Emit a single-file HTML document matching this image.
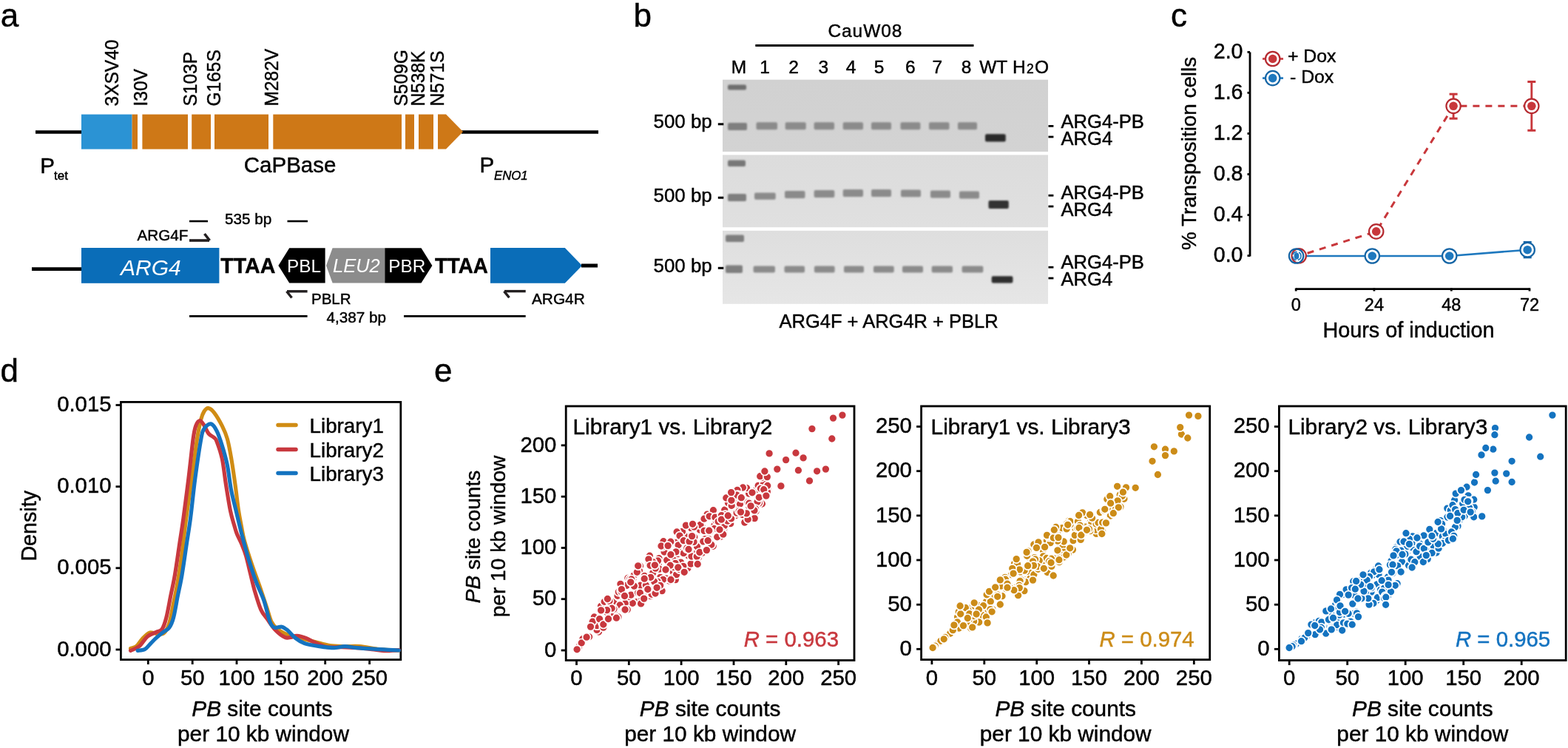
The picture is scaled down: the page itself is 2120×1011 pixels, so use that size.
<!DOCTYPE html>
<html><head><meta charset="utf-8"><title>Figure</title>
<style>html,body{margin:0;padding:0;background:#fff;} svg{display:block;} text{font-family:'Liberation Sans', Arial, sans-serif;stroke:#000;stroke-width:0.45px;}</style>
</head><body>
<svg width="2120" height="1011" viewBox="0 0 2120 1011">
<rect width="2120" height="1011" fill="#fff"/>
<text x="0.8" y="35.5" font-size="44">a</text>
<text x="856.5" y="35.5" font-size="44">b</text>
<text x="1583.0" y="35.5" font-size="44">c</text>
<text x="0.5" y="515.5" font-size="44">d</text>
<text x="587.0" y="515.5" font-size="44">e</text>
<line x1="48.0" y1="178.5" x2="111.0" y2="178.5" stroke="#000" stroke-width="4.6" />
<line x1="624.0" y1="178.5" x2="809.0" y2="178.5" stroke="#000" stroke-width="4.6" />
<rect x="110.0" y="154.6" width="68.6" height="47.0" fill="#2B93D4" />
<rect x="178.6" y="154.6" width="7.4" height="47.0" fill="#CE7817" />
<rect x="192.4" y="154.6" width="61.6" height="47.0" fill="#CE7817" />
<rect x="259.2" y="154.6" width="25.8" height="47.0" fill="#CE7817" />
<rect x="290.0" y="154.6" width="73.0" height="47.0" fill="#CE7817" />
<rect x="369.3" y="154.6" width="173.7" height="47.0" fill="#CE7817" />
<rect x="548.0" y="154.6" width="12.0" height="47.0" fill="#CE7817" />
<rect x="566.0" y="154.6" width="20.0" height="47.0" fill="#CE7817" />
<polygon points="592.0,154.6 603.0,154.6 626.0,178.0 603.0,201.6 592.0,201.6" fill="#CE7817" />
<text x="0" y="0" font-size="26.5" transform="translate(159.5,143.5) rotate(-90) scale(0.925,1)">3XSV40</text>
<text x="0" y="0" font-size="26.5" transform="translate(199,143.5) rotate(-90) scale(0.925,1)">I30V</text>
<text x="0" y="0" font-size="26.5" transform="translate(266,143.5) rotate(-90) scale(0.925,1)">S103P</text>
<text x="0" y="0" font-size="26.5" transform="translate(298,143.5) rotate(-90) scale(0.925,1)">G165S</text>
<text x="0" y="0" font-size="26.5" transform="translate(376,143.5) rotate(-90) scale(0.925,1)">M282V</text>
<text x="0" y="0" font-size="26.5" transform="translate(551,143.5) rotate(-90) scale(0.925,1)">S509G</text>
<text x="0" y="0" font-size="26.5" transform="translate(574,143.5) rotate(-90) scale(0.925,1)">N538K</text>
<text x="0" y="0" font-size="26.5" transform="translate(600,143.5) rotate(-90) scale(0.925,1)">N571S</text>
<text x="54.3" y="233.5" font-size="29.5">P</text>
<text x="73.0" y="242.8" font-size="17">tet</text>
<text x="329.8" y="233.3" font-size="29.5">CaPBase</text>
<text x="648.4" y="233.1" font-size="29.5">P</text>
<text x="668.0" y="242.9" font-size="16.8" font-style="italic">ENO1</text>
<line x1="43.0" y1="363.6" x2="110.0" y2="363.6" stroke="#000" stroke-width="4.8" />
<rect x="110.0" y="335.0" width="186.4" height="47.8" fill="#0A6DB8" />
<text x="163.0" y="372.0" font-size="30" font-style="italic" fill="#fff" style="stroke:none">ARG4</text>
<text x="298.3" y="369.4" font-size="29.3" font-weight="bold" textLength="74" lengthAdjust="spacingAndGlyphs">TTAA</text>
<polygon points="376.4,359.0 391.2,335.2 439.6,335.2 439.6,382.6 391.2,382.6" fill="#000" />
<polygon points="441.0,359.0 449.6,335.2 520.3,335.2 520.3,382.6 449.6,382.6" fill="#8C8C8C" />
<polygon points="520.3,335.2 569.5,335.2 584.4,359.0 569.5,382.6 520.3,382.6" fill="#000" />
<text x="388.0" y="368.0" font-size="24.3" fill="#fff" style="stroke:none">PBL</text>
<text x="450.0" y="368.0" font-size="25.5" font-style="italic" fill="#fff" style="stroke:none">LEU2</text>
<text x="525.3" y="368.0" font-size="24.3" fill="#fff" style="stroke:none">PBR</text>
<text x="587.9" y="369.4" font-size="29.3" font-weight="bold" textLength="72" lengthAdjust="spacingAndGlyphs">TTAA</text>
<polygon points="663.0,335.0 763.8,335.0 787.0,359.0 763.8,382.8 663.0,382.8" fill="#0A6DB8" />
<line x1="786.0" y1="359.0" x2="808.0" y2="359.0" stroke="#000" stroke-width="5" />
<text x="185.5" y="324.8" font-size="20.7">ARG4F</text>
<line x1="256.0" y1="325.0" x2="283.0" y2="325.0" stroke="#231F20" stroke-width="3.6" />
<path d="M283.5,325 L276.5,316" stroke="#231F20" stroke-width="3.6" fill="none"/>
<text x="304.0" y="303.0" font-size="20.7">535 bp</text>
<line x1="256.0" y1="299.0" x2="281.0" y2="299.0" stroke="#000" stroke-width="2.6" />
<line x1="388.5" y1="299.0" x2="416.0" y2="299.0" stroke="#000" stroke-width="2.6" />
<line x1="388.0" y1="393.8" x2="415.6" y2="393.8" stroke="#231F20" stroke-width="3.4" />
<path d="M387.5,393.8 L394.5,402.5" stroke="#231F20" stroke-width="3.4" fill="none"/>
<text x="421.0" y="410.5" font-size="20.5">PBLR</text>
<line x1="682.0" y1="393.6" x2="710.7" y2="393.6" stroke="#231F20" stroke-width="3.4" />
<path d="M681.5,393.6 L688.5,402.3" stroke="#231F20" stroke-width="3.4" fill="none"/>
<text x="719.0" y="410.5" font-size="20.8">ARG4R</text>
<line x1="256.0" y1="427.4" x2="415.6" y2="427.4" stroke="#000" stroke-width="2.8" />
<line x1="546.0" y1="427.4" x2="710.7" y2="427.4" stroke="#000" stroke-width="2.8" />
<text x="441.5" y="435.6" font-size="20.7">4,387 bp</text>
<defs><filter id="bl" x="-30%" y="-60%" width="160%" height="220%"><feGaussianBlur stdDeviation="1.3"/></filter><filter id="bl2" x="-30%" y="-60%" width="160%" height="220%"><feGaussianBlur stdDeviation="0.9"/></filter></defs>
<text x="1119.5" y="49.6" font-size="24.5" letter-spacing="0.9">CauW08</text>
<line x1="1021.3" y1="61.6" x2="1316.5" y2="61.6" stroke="#000" stroke-width="3" />
<text x="999.0" y="99.4" font-size="24.5" text-anchor="middle">M</text>
<text x="1034.0" y="99.4" font-size="24.5" text-anchor="middle">1</text>
<text x="1073.0" y="99.4" font-size="24.5" text-anchor="middle">2</text>
<text x="1113.2" y="99.4" font-size="24.5" text-anchor="middle">3</text>
<text x="1150.5" y="99.4" font-size="24.5" text-anchor="middle">4</text>
<text x="1188.6" y="99.4" font-size="24.5" text-anchor="middle">5</text>
<text x="1230.8" y="99.4" font-size="24.5" text-anchor="middle">6</text>
<text x="1267.2" y="99.4" font-size="24.5" text-anchor="middle">7</text>
<text x="1306.5" y="99.4" font-size="24.5" text-anchor="middle">8</text>
<text x="1343.2" y="99.4" font-size="24.5" text-anchor="middle">WT</text>
<text x="1369" y="99.4" font-size="24.5" letter-spacing="1.3">H<tspan font-size="17.5">2</tspan>O</text>
<defs><linearGradient id="g1" x1="0" y1="0" x2="0" y2="1"><stop offset="0" stop-color="#D1D1D1"/><stop offset="1" stop-color="#D3D3D3"/></linearGradient><linearGradient id="g2" x1="0" y1="0" x2="0" y2="1"><stop offset="0" stop-color="#DCDCDC"/><stop offset="1" stop-color="#E0E0E0"/></linearGradient><linearGradient id="g3" x1="0" y1="0" x2="0" y2="1"><stop offset="0" stop-color="#DEDEDE"/><stop offset="1" stop-color="#E6E6E6"/></linearGradient></defs>
<rect x="977.0" y="107.7" width="440.0" height="97.3" fill="url(#g1)" />
<rect x="977.0" y="209.4" width="440.0" height="97.8" fill="url(#g2)" />
<rect x="977.0" y="311.8" width="440.0" height="99.0" fill="url(#g3)" />
<rect x="984.0" y="114.5" width="25.0" height="7.0" rx="2" fill="#6E6E6E" filter="url(#bl)"/>
<rect x="984.0" y="166.0" width="26.0" height="10.0" rx="2" fill="#7F7F7F" filter="url(#bl)"/>
<rect x="1022.5" y="165.3" width="28.5" height="9.9" rx="2" fill="#8B8B8B" filter="url(#bl)"/>
<rect x="1061.7" y="165.3" width="28.0" height="9.9" rx="2" fill="#8B8B8B" filter="url(#bl)"/>
<rect x="1100.6" y="165.3" width="27.4" height="9.9" rx="2" fill="#8B8B8B" filter="url(#bl)"/>
<rect x="1139.7" y="165.3" width="27.3" height="9.9" rx="2" fill="#8B8B8B" filter="url(#bl)"/>
<rect x="1178.0" y="165.3" width="27.0" height="9.9" rx="2" fill="#8B8B8B" filter="url(#bl)"/>
<rect x="1217.5" y="165.3" width="26.9" height="9.9" rx="2" fill="#8B8B8B" filter="url(#bl)"/>
<rect x="1256.0" y="165.3" width="27.5" height="9.9" rx="2" fill="#8B8B8B" filter="url(#bl)"/>
<rect x="1295.0" y="165.3" width="26.0" height="9.9" rx="2" fill="#8B8B8B" filter="url(#bl)"/>
<rect x="1332.0" y="181.3" width="27.7" height="10.2" rx="2" fill="#2A2A2A" filter="url(#bl2)"/>
<rect x="984.0" y="216.5" width="24.0" height="8.5" rx="2" fill="#777777" filter="url(#bl)"/>
<rect x="984.0" y="262.0" width="25.0" height="10.0" rx="2" fill="#7F7F7F" filter="url(#bl)"/>
<rect x="1020.0" y="260.6" width="28.7" height="9.1" rx="2" fill="#8B8B8B" filter="url(#bl)"/>
<rect x="1061.0" y="258.0" width="27.5" height="10.0" rx="2" fill="#8B8B8B" filter="url(#bl)"/>
<rect x="1100.6" y="257.0" width="27.7" height="10.0" rx="2" fill="#8B8B8B" filter="url(#bl)"/>
<rect x="1139.7" y="256.0" width="27.3" height="10.0" rx="2" fill="#8B8B8B" filter="url(#bl)"/>
<rect x="1178.0" y="256.0" width="27.0" height="10.0" rx="2" fill="#8B8B8B" filter="url(#bl)"/>
<rect x="1218.0" y="256.6" width="27.0" height="9.7" rx="2" fill="#8B8B8B" filter="url(#bl)"/>
<rect x="1258.0" y="257.5" width="27.0" height="10.1" rx="2" fill="#8B8B8B" filter="url(#bl)"/>
<rect x="1297.0" y="258.6" width="27.0" height="9.9" rx="2" fill="#8B8B8B" filter="url(#bl)"/>
<rect x="1336.5" y="271.0" width="27.3" height="11.0" rx="2" fill="#333333" filter="url(#bl2)"/>
<rect x="981.0" y="317.5" width="25.0" height="9.5" rx="2" fill="#7E7E7E" filter="url(#bl)"/>
<rect x="981.0" y="358.6" width="23.0" height="10.3" rx="2" fill="#7F7F7F" filter="url(#bl)"/>
<rect x="1018.6" y="359.4" width="29.3" height="9.0" rx="2" fill="#8B8B8B" filter="url(#bl)"/>
<rect x="1060.5" y="359.4" width="27.5" height="9.0" rx="2" fill="#8B8B8B" filter="url(#bl)"/>
<rect x="1100.9" y="359.4" width="27.7" height="9.0" rx="2" fill="#8B8B8B" filter="url(#bl)"/>
<rect x="1141.0" y="359.4" width="27.0" height="9.0" rx="2" fill="#8B8B8B" filter="url(#bl)"/>
<rect x="1181.0" y="359.4" width="27.7" height="9.0" rx="2" fill="#8B8B8B" filter="url(#bl)"/>
<rect x="1220.0" y="359.4" width="28.0" height="9.0" rx="2" fill="#8B8B8B" filter="url(#bl)"/>
<rect x="1259.7" y="359.4" width="28.3" height="9.0" rx="2" fill="#8B8B8B" filter="url(#bl)"/>
<rect x="1300.6" y="359.4" width="28.7" height="9.0" rx="2" fill="#8B8B8B" filter="url(#bl)"/>
<rect x="1340.7" y="373.2" width="28.7" height="9.3" rx="2" fill="#2F2F2F" filter="url(#bl2)"/>
<text x="883.5" y="173.1" font-size="25.9">500 bp</text>
<line x1="970.8" y1="167.8" x2="978.3" y2="167.8" stroke="#000" stroke-width="3" />
<text x="883.5" y="272.5" font-size="25.9">500 bp</text>
<line x1="970.8" y1="267.2" x2="978.3" y2="267.2" stroke="#000" stroke-width="3" />
<text x="883.5" y="367.5" font-size="25.9">500 bp</text>
<line x1="970.8" y1="362.3" x2="978.3" y2="362.3" stroke="#000" stroke-width="3" />
<text x="1434.5" y="173.4" font-size="25.6">ARG4-PB</text>
<text x="1434.5" y="196.0" font-size="25.6">ARG4</text>
<line x1="1417.5" y1="170.4" x2="1424.4" y2="170.4" stroke="#000" stroke-width="2.8" />
<line x1="1417.5" y1="185.0" x2="1424.4" y2="185.0" stroke="#000" stroke-width="2.8" />
<text x="1434.5" y="268.6" font-size="25.6">ARG4-PB</text>
<text x="1434.5" y="291.8" font-size="25.6">ARG4</text>
<line x1="1417.5" y1="264.2" x2="1424.4" y2="264.2" stroke="#000" stroke-width="2.8" />
<line x1="1417.5" y1="279.0" x2="1424.4" y2="279.0" stroke="#000" stroke-width="2.8" />
<text x="1434.5" y="362.5" font-size="25.6">ARG4-PB</text>
<text x="1434.5" y="385.7" font-size="25.6">ARG4</text>
<line x1="1417.5" y1="361.2" x2="1424.4" y2="361.2" stroke="#000" stroke-width="2.8" />
<line x1="1417.5" y1="376.0" x2="1424.4" y2="376.0" stroke="#000" stroke-width="2.8" />
<text x="1053.5" y="443.3" font-size="25.5">ARG4F + ARG4R + PBLR</text>
<line x1="1690.0" y1="70.4" x2="1690.0" y2="346.4" stroke="#000" stroke-width="2.8" />
<line x1="1686.5" y1="345.6" x2="1690.0" y2="345.6" stroke="#000" stroke-width="2.8" />
<text x="1680.5" y="354.3" font-size="28.6" text-anchor="end">0.0</text>
<line x1="1686.5" y1="290.6" x2="1690.0" y2="290.6" stroke="#000" stroke-width="2.8" />
<text x="1680.5" y="299.3" font-size="28.6" text-anchor="end">0.4</text>
<line x1="1686.5" y1="235.5" x2="1690.0" y2="235.5" stroke="#000" stroke-width="2.8" />
<text x="1680.5" y="244.2" font-size="28.6" text-anchor="end">0.8</text>
<line x1="1686.5" y1="180.5" x2="1690.0" y2="180.5" stroke="#000" stroke-width="2.8" />
<text x="1680.5" y="189.2" font-size="28.6" text-anchor="end">1.2</text>
<line x1="1686.5" y1="125.4" x2="1690.0" y2="125.4" stroke="#000" stroke-width="2.8" />
<text x="1680.5" y="134.1" font-size="28.6" text-anchor="end">1.6</text>
<line x1="1686.5" y1="70.4" x2="1690.0" y2="70.4" stroke="#000" stroke-width="2.8" />
<text x="1680.5" y="79.1" font-size="28.6" text-anchor="end">2.0</text>
<line x1="1752.0" y1="390.6" x2="2068.6" y2="390.6" stroke="#000" stroke-width="2.8" />
<line x1="1752.2" y1="389.5" x2="1752.2" y2="393.5" stroke="#000" stroke-width="2.8" />
<text x="1752.2" y="420.2" font-size="23.5" text-anchor="middle">0</text>
<line x1="1857.9" y1="389.5" x2="1857.9" y2="393.5" stroke="#000" stroke-width="2.8" />
<text x="1857.9" y="420.2" font-size="23.5" text-anchor="middle">24</text>
<line x1="1962.3" y1="389.5" x2="1962.3" y2="393.5" stroke="#000" stroke-width="2.8" />
<text x="1962.3" y="420.2" font-size="23.5" text-anchor="middle">48</text>
<line x1="2068.0" y1="389.5" x2="2068.0" y2="393.5" stroke="#000" stroke-width="2.8" />
<text x="2068.0" y="420.2" font-size="23.5" text-anchor="middle">72</text>
<text x="1904.5" y="455.9" font-size="28.8" text-anchor="middle">Hours of induction</text>
<text x="1616.6" y="338.0" font-size="27.8" transform="rotate(-90 1616.6 338.0)">% Transposition cells</text>
<polyline points="1752.6,346.0 1855.3,346.0 1959.7,346.0 2065.2,337.7" fill="none" stroke="#1E78BE" stroke-width="2.6"/>
<polyline points="1756.2,345.8 1860.7,312.9 1965.1,143.3 2070.8,143.3" fill="none" stroke="#C8373B" stroke-width="3" stroke-dasharray="9,8" stroke-dashoffset="-12"/>
<line x1="1965.1" y1="127.2" x2="1965.1" y2="160.2" stroke="#C8373B" stroke-width="2.8" />
<line x1="1959.6" y1="127.2" x2="1970.6" y2="127.2" stroke="#C8373B" stroke-width="3" />
<line x1="1959.6" y1="160.2" x2="1970.6" y2="160.2" stroke="#C8373B" stroke-width="3" />
<line x1="2070.8" y1="110.5" x2="2070.8" y2="176.3" stroke="#C8373B" stroke-width="2.8" />
<line x1="2065.3" y1="110.5" x2="2076.3" y2="110.5" stroke="#C8373B" stroke-width="3" />
<line x1="2065.3" y1="176.3" x2="2076.3" y2="176.3" stroke="#C8373B" stroke-width="3" />
<line x1="2059.7" y1="327.3" x2="2070.7" y2="327.3" stroke="#1565A5" stroke-width="2.8" />
<line x1="2059.7" y1="347.9" x2="2070.7" y2="347.9" stroke="#1565A5" stroke-width="2.8" />
<circle cx="1860.7" cy="312.9" r="9.7" fill="#fff" stroke="#B52A30" stroke-width="2.2"/>
<circle cx="1860.7" cy="312.9" r="5.8" fill="#C8373B"/>
<circle cx="1965.1" cy="143.3" r="9.7" fill="#fff" stroke="#B52A30" stroke-width="2.2"/>
<circle cx="1965.1" cy="143.3" r="5.8" fill="#C8373B"/>
<circle cx="2070.8" cy="143.3" r="9.7" fill="#fff" stroke="#B52A30" stroke-width="2.2"/>
<circle cx="2070.8" cy="143.3" r="5.8" fill="#C8373B"/>
<circle cx="1756.2" cy="345.8" r="9.7" fill="#fff" stroke="#B52A30" stroke-width="2.2"/>
<circle cx="1752.6" cy="346" r="9.7" fill="none" stroke="#1565A5" stroke-width="2.2"/>
<circle cx="1753.4" cy="346" r="5.6" fill="none" stroke="#1E78BE" stroke-width="1.6" stroke-dasharray="7,2.5"/>
<ellipse cx="1753" cy="346" rx="3.4" ry="4.6" fill="#1E78BE"/>
<circle cx="1855.3" cy="346.0" r="9.7" fill="#fff" stroke="#1565A5" stroke-width="2.2"/>
<circle cx="1855.3" cy="346.0" r="5.8" fill="#1E78BE"/>
<circle cx="1959.7" cy="346.0" r="9.7" fill="#fff" stroke="#1565A5" stroke-width="2.2"/>
<circle cx="1959.7" cy="346.0" r="5.8" fill="#1E78BE"/>
<circle cx="2065.2" cy="337.7" r="9.7" fill="#fff" stroke="#1565A5" stroke-width="2.2"/>
<circle cx="2065.2" cy="337.7" r="5.8" fill="#1E78BE"/>
<line x1="1707.0" y1="79.5" x2="1735.0" y2="79.5" stroke="#C8373B" stroke-width="2.6" />
<circle cx="1720.7" cy="79.5" r="9.7" fill="#fff" stroke="#B52A30" stroke-width="2.2"/>
<circle cx="1720.7" cy="79.5" r="5.8" fill="#C8373B"/>
<line x1="1707.0" y1="105.6" x2="1735.0" y2="105.6" stroke="#1E78BE" stroke-width="2.6" />
<circle cx="1720.7" cy="105.6" r="9.7" fill="#fff" stroke="#1565A5" stroke-width="2.2"/>
<circle cx="1720.7" cy="105.6" r="5.8" fill="#1E78BE"/>
<text x="1741.0" y="83.8" font-size="24.8">+ Dox</text>
<text x="1744.0" y="112.3" font-size="24.8">- Dox</text>
<rect x="163.4" y="543.4" width="378.4" height="348.2" fill="none" stroke="#000" stroke-width="2.8"/>
<line x1="156.5" y1="878.0" x2="163.4" y2="878.0" stroke="#000" stroke-width="2.8" />
<text x="150.5" y="886.6" font-size="29.3" text-anchor="end">0.000</text>
<line x1="156.5" y1="767.8" x2="163.4" y2="767.8" stroke="#000" stroke-width="2.8" />
<text x="150.5" y="776.4" font-size="29.3" text-anchor="end">0.005</text>
<line x1="156.5" y1="657.7" x2="163.4" y2="657.7" stroke="#000" stroke-width="2.8" />
<text x="150.5" y="666.3" font-size="29.3" text-anchor="end">0.010</text>
<line x1="156.5" y1="547.5" x2="163.4" y2="547.5" stroke="#000" stroke-width="2.8" />
<text x="150.5" y="556.1" font-size="29.3" text-anchor="end">0.015</text>
<line x1="200.3" y1="891.6" x2="200.3" y2="898.0" stroke="#000" stroke-width="2.8" />
<text x="200.3" y="925.5" font-size="29.3" text-anchor="middle">0</text>
<line x1="260.2" y1="891.6" x2="260.2" y2="898.0" stroke="#000" stroke-width="2.8" />
<text x="260.2" y="925.5" font-size="29.3" text-anchor="middle">50</text>
<line x1="320.0" y1="891.6" x2="320.0" y2="898.0" stroke="#000" stroke-width="2.8" />
<text x="320.0" y="925.5" font-size="29.3" text-anchor="middle">100</text>
<line x1="379.9" y1="891.6" x2="379.9" y2="898.0" stroke="#000" stroke-width="2.8" />
<text x="379.9" y="925.5" font-size="29.3" text-anchor="middle">150</text>
<line x1="439.7" y1="891.6" x2="439.7" y2="898.0" stroke="#000" stroke-width="2.8" />
<text x="439.7" y="925.5" font-size="29.3" text-anchor="middle">200</text>
<line x1="499.6" y1="891.6" x2="499.6" y2="898.0" stroke="#000" stroke-width="2.8" />
<text x="499.6" y="925.5" font-size="29.3" text-anchor="middle">250</text>
<text x="354.5" y="967.6" font-size="29.8" text-anchor="middle"><tspan font-style="italic">PB</tspan> site counts</text>
<text x="356.0" y="1001.6" font-size="29.8" text-anchor="middle">per 10 kb window</text>
<text x="49.2" y="758.6" font-size="28.7" transform="rotate(-90 49.2 758.6)">Density</text>
<path d="M176.6,876.5 C177.9,876.0 181.7,875.7 184.3,873.6 C186.9,871.5 189.1,867.0 192.0,864.0 C194.9,861.0 198.5,856.6 201.7,855.3 C204.9,854.0 208.1,856.1 211.3,856.3 C214.5,856.5 218.1,858.5 221.0,856.3 C223.9,854.0 226.4,849.5 228.7,842.8 C230.9,836.0 232.6,825.1 234.5,815.8 C236.4,806.5 238.3,798.1 240.2,786.8 C242.1,775.5 244.1,762.7 246.0,748.2 C247.9,733.7 249.6,716.9 251.8,700.0 C254.0,683.1 256.9,664.6 259.4,646.8 C261.8,629.0 264.4,606.8 266.5,593.4 C268.6,580.0 270.2,572.9 271.8,566.7 C273.4,560.5 274.4,558.5 276.0,556.0 C277.6,553.5 279.3,551.3 281.6,551.6 C283.9,551.9 286.5,553.8 289.6,557.8 C292.7,561.8 297.3,569.7 300.3,575.6 C303.3,581.5 305.3,586.0 307.4,593.4 C309.5,600.8 311.0,609.7 312.8,620.1 C314.6,630.5 316.5,644.1 318.1,655.7 C319.7,667.4 321.1,680.6 322.5,690.0 C323.9,699.4 325.2,705.2 326.5,712.0 C327.8,718.8 328.0,722.1 330.4,730.6 C332.8,739.1 337.2,752.9 340.6,763.0 C344.0,773.1 347.3,781.6 350.7,791.4 C354.1,801.2 358.2,813.7 360.9,821.8 C363.6,829.9 364.5,835.4 366.9,840.1 C369.2,844.8 371.9,847.5 375.0,850.2 C378.1,852.9 381.5,854.6 385.2,856.3 C388.9,858.0 393.3,859.2 397.4,860.4 C401.4,861.6 404.8,862.2 409.5,863.4 C414.2,864.6 419.7,866.0 425.8,867.5 C431.9,869.0 439.2,871.6 446.0,872.6 C452.8,873.6 459.5,873.4 466.3,873.6 C473.1,873.8 478.8,872.9 486.6,873.6 C494.4,874.3 504.2,876.7 513.0,877.6 C521.8,878.5 535.0,878.8 539.4,879.0" fill="none" stroke="#D08C14" stroke-width="5.2" stroke-linejoin="round" stroke-linecap="round"/>
<path d="M176.6,879.4 C178.5,878.4 184.3,876.8 188.2,873.6 C192.0,870.4 195.8,863.3 199.7,860.1 C203.5,856.9 208.1,855.9 211.3,854.3 C214.5,852.7 216.8,853.7 219.0,850.5 C221.2,847.3 222.9,842.4 224.8,835.0 C226.7,827.6 228.7,815.7 230.6,806.1 C232.5,796.5 234.5,788.5 236.4,777.2 C238.3,766.0 240.3,751.5 242.2,738.6 C244.1,725.7 245.9,715.3 248.0,700.0 C250.1,684.7 252.7,664.6 254.9,646.8 C257.1,629.0 259.5,605.3 261.1,593.4 C262.7,581.5 263.2,579.8 264.7,575.6 C266.2,571.5 268.3,568.6 270.2,568.5 C272.1,568.4 274.0,572.1 276.0,575.0 C278.0,577.9 279.7,583.2 282.0,586.0 C284.3,588.8 287.7,589.8 289.6,591.6 C291.5,593.4 291.4,592.3 293.2,597.0 C295.0,601.7 298.2,610.3 300.3,620.0 C302.4,629.7 303.6,643.2 305.5,655.0 C307.4,666.8 309.6,681.3 311.5,690.5 C313.4,699.7 315.3,705.1 316.8,710.3 C318.3,715.5 318.7,717.5 320.3,721.5 C321.9,725.5 324.4,729.7 326.4,734.6 C328.4,739.5 330.5,744.1 332.5,750.9 C334.5,757.7 336.5,767.1 338.5,775.2 C340.5,783.3 342.2,791.4 344.6,799.5 C347.0,807.6 350.0,817.8 352.7,823.9 C355.4,830.0 357.5,831.3 360.9,836.0 C364.3,840.7 368.9,848.1 373.0,852.3 C377.1,856.5 381.8,859.9 385.2,861.4 C388.6,862.9 390.6,861.7 393.3,861.4 C396.0,861.1 398.0,859.2 401.4,859.4 C404.8,859.6 409.5,860.9 413.6,862.4 C417.7,863.9 421.1,866.5 425.8,868.5 C430.5,870.5 435.9,873.6 442.0,874.6 C448.1,875.6 455.5,874.4 462.3,874.6 C469.1,874.8 475.9,875.1 482.6,875.6 C489.4,876.1 496.7,876.9 502.8,877.6 C508.9,878.3 512.9,879.5 519.0,879.7 C525.1,879.9 536.0,878.8 539.4,878.6" fill="none" stroke="#C8383E" stroke-width="5.2" stroke-linejoin="round" stroke-linecap="round"/>
<path d="M186.2,879.4 C187.8,879.1 193.0,879.1 195.9,877.5 C198.8,875.9 201.0,872.4 203.6,869.8 C206.2,867.2 208.4,864.7 211.3,862.1 C214.2,859.5 218.1,856.5 221.0,854.3 C223.9,852.0 226.4,851.8 228.7,848.6 C230.9,845.4 232.6,842.1 234.5,835.0 C236.4,827.9 238.3,815.7 240.2,806.1 C242.1,796.5 244.1,788.5 246.0,777.2 C247.9,766.0 249.9,751.5 251.8,738.6 C253.7,725.7 255.6,715.3 257.6,700.0 C259.6,684.7 261.4,664.6 263.8,646.8 C266.2,629.0 269.7,604.7 271.8,593.4 C273.9,582.1 274.1,582.6 276.3,579.2 C278.5,575.8 282.4,572.3 285.2,572.9 C288.0,573.5 290.7,577.8 293.2,582.7 C295.7,587.6 297.9,594.6 300.3,602.3 C302.7,610.0 305.4,619.0 307.4,629.0 C309.4,639.0 310.5,651.5 312.5,662.0 C314.5,672.5 317.2,682.3 319.5,692.0 C321.8,701.7 323.6,709.6 326.4,720.4 C329.2,731.2 333.1,745.8 336.5,757.0 C339.9,768.2 343.3,778.3 346.7,787.4 C350.1,796.5 353.8,802.9 356.8,811.7 C359.8,820.5 362.5,834.0 364.9,840.1 C367.3,846.2 368.3,847.0 371.0,848.2 C373.7,849.4 378.1,846.5 381.1,847.2 C384.1,847.9 386.1,849.8 389.2,852.3 C392.2,854.8 395.7,859.5 399.4,862.4 C403.1,865.3 406.2,867.6 411.6,869.5 C417.0,871.4 425.1,872.6 431.8,873.6 C438.6,874.6 446.4,875.6 452.1,875.6 C457.9,875.6 461.2,873.6 466.3,873.6 C471.4,873.6 474.8,874.9 482.6,875.6 C490.4,876.3 503.5,877.0 513.0,877.6 C522.5,878.2 535.0,878.8 539.4,879.0" fill="none" stroke="#1473C0" stroke-width="5.2" stroke-linejoin="round" stroke-linecap="round"/>
<line x1="376.0" y1="574.6" x2="400.0" y2="574.6" stroke="#D08C14" stroke-width="5.5" stroke-linecap="round"/>
<text x="418.5" y="585.4" font-size="27.8">Library1</text>
<line x1="376.0" y1="607.6" x2="400.0" y2="607.6" stroke="#C8383E" stroke-width="5.5" stroke-linecap="round"/>
<text x="418.5" y="618.4" font-size="27.8">Library2</text>
<line x1="376.0" y1="639.5" x2="400.0" y2="639.5" stroke="#1473C0" stroke-width="5.5" stroke-linecap="round"/>
<text x="418.5" y="650.3" font-size="27.8">Library3</text>
<rect x="765.2" y="549" width="389.8" height="343.5" fill="none" stroke="#000" stroke-width="2.8"/>
<line x1="758.7" y1="879.0" x2="765.2" y2="879.0" stroke="#000" stroke-width="2.8" />
<text x="752.4" y="887.6" font-size="29.3" text-anchor="end">0</text>
<line x1="758.7" y1="809.7" x2="765.2" y2="809.7" stroke="#000" stroke-width="2.8" />
<text x="752.4" y="818.3" font-size="29.3" text-anchor="end">50</text>
<line x1="758.7" y1="740.5" x2="765.2" y2="740.5" stroke="#000" stroke-width="2.8" />
<text x="752.4" y="749.1" font-size="29.3" text-anchor="end">100</text>
<line x1="758.7" y1="671.2" x2="765.2" y2="671.2" stroke="#000" stroke-width="2.8" />
<text x="752.4" y="679.8" font-size="29.3" text-anchor="end">150</text>
<line x1="758.7" y1="601.9" x2="765.2" y2="601.9" stroke="#000" stroke-width="2.8" />
<text x="752.4" y="610.5" font-size="29.3" text-anchor="end">200</text>
<line x1="779.5" y1="892.5" x2="779.5" y2="899.0" stroke="#000" stroke-width="2.8" />
<text x="779.5" y="925.5" font-size="29.3" text-anchor="middle">0</text>
<line x1="850.3" y1="892.5" x2="850.3" y2="899.0" stroke="#000" stroke-width="2.8" />
<text x="850.3" y="925.5" font-size="29.3" text-anchor="middle">50</text>
<line x1="921.1" y1="892.5" x2="921.1" y2="899.0" stroke="#000" stroke-width="2.8" />
<text x="921.1" y="925.5" font-size="29.3" text-anchor="middle">100</text>
<line x1="992.0" y1="892.5" x2="992.0" y2="899.0" stroke="#000" stroke-width="2.8" />
<text x="992.0" y="925.5" font-size="29.3" text-anchor="middle">150</text>
<line x1="1062.8" y1="892.5" x2="1062.8" y2="899.0" stroke="#000" stroke-width="2.8" />
<text x="1062.8" y="925.5" font-size="29.3" text-anchor="middle">200</text>
<line x1="1133.6" y1="892.5" x2="1133.6" y2="899.0" stroke="#000" stroke-width="2.8" />
<text x="1133.6" y="925.5" font-size="29.3" text-anchor="middle">250</text>
<text x="960.1" y="967.6" font-size="29.8" text-anchor="middle"><tspan font-style="italic">PB</tspan> site counts</text>
<text x="960.1" y="1001.6" font-size="29.8" text-anchor="middle">per 10 kb window</text>
<g fill="#C8383E" stroke="#fff" stroke-width="1.7"><circle cx="848.9" cy="781.3" r="5.5"/><circle cx="904.9" cy="785.2" r="5.5"/><circle cx="985.5" cy="704.6" r="5.5"/><circle cx="957.1" cy="726.9" r="5.5"/><circle cx="884.2" cy="771.1" r="5.5"/><circle cx="979.7" cy="689.2" r="5.5"/><circle cx="900.6" cy="781.9" r="5.5"/><circle cx="830.0" cy="813.5" r="5.5"/><circle cx="865.5" cy="765.0" r="5.5"/><circle cx="783.2" cy="873.3" r="5.5"/><circle cx="847.7" cy="824.7" r="5.5"/><circle cx="939.2" cy="709.7" r="5.5"/><circle cx="1000.5" cy="681.3" r="5.5"/><circle cx="1013.0" cy="685.0" r="5.5"/><circle cx="809.5" cy="854.0" r="5.5"/><circle cx="966.0" cy="709.7" r="5.5"/><circle cx="836.3" cy="806.4" r="5.5"/><circle cx="897.0" cy="731.7" r="5.5"/><circle cx="916.2" cy="739.9" r="5.5"/><circle cx="987.7" cy="707.7" r="5.5"/><circle cx="860.7" cy="813.6" r="5.5"/><circle cx="970.7" cy="726.4" r="5.5"/><circle cx="867.8" cy="810.5" r="5.5"/><circle cx="855.5" cy="785.7" r="5.5"/><circle cx="934.7" cy="714.1" r="5.5"/><circle cx="855.3" cy="815.3" r="5.5"/><circle cx="932.4" cy="734.5" r="5.5"/><circle cx="902.4" cy="748.7" r="5.5"/><circle cx="835.0" cy="805.3" r="5.5"/><circle cx="922.5" cy="744.8" r="5.5"/><circle cx="1022.7" cy="661.5" r="5.5"/><circle cx="877.3" cy="796.1" r="5.5"/><circle cx="939.2" cy="727.6" r="5.5"/><circle cx="892.8" cy="780.4" r="5.5"/><circle cx="912.8" cy="733.3" r="5.5"/><circle cx="890.3" cy="763.8" r="5.5"/><circle cx="850.3" cy="806.5" r="5.5"/><circle cx="787.9" cy="863.6" r="5.5"/><circle cx="1022.0" cy="691.2" r="5.5"/><circle cx="845.2" cy="815.6" r="5.5"/><circle cx="870.7" cy="803.1" r="5.5"/><circle cx="929.9" cy="768.0" r="5.5"/><circle cx="896.6" cy="783.3" r="5.5"/><circle cx="803.4" cy="834.0" r="5.5"/><circle cx="879.5" cy="805.7" r="5.5"/><circle cx="953.2" cy="728.7" r="5.5"/><circle cx="807.0" cy="851.4" r="5.5"/><circle cx="944.6" cy="753.4" r="5.5"/><circle cx="979.0" cy="717.6" r="5.5"/><circle cx="913.6" cy="754.5" r="5.5"/><circle cx="807.2" cy="845.7" r="5.5"/><circle cx="933.1" cy="724.4" r="5.5"/><circle cx="1034.3" cy="647.3" r="5.5"/><circle cx="934.1" cy="762.1" r="5.5"/><circle cx="812.5" cy="819.3" r="5.5"/><circle cx="853.1" cy="804.1" r="5.5"/><circle cx="874.2" cy="789.0" r="5.5"/><circle cx="950.8" cy="731.9" r="5.5"/><circle cx="876.4" cy="779.5" r="5.5"/><circle cx="989.8" cy="664.8" r="5.5"/><circle cx="856.4" cy="781.7" r="5.5"/><circle cx="925.3" cy="724.0" r="5.5"/><circle cx="856.8" cy="778.0" r="5.5"/><circle cx="891.0" cy="754.7" r="5.5"/><circle cx="1002.8" cy="673.3" r="5.5"/><circle cx="882.6" cy="774.5" r="5.5"/><circle cx="866.6" cy="815.9" r="5.5"/><circle cx="930.1" cy="750.8" r="5.5"/><circle cx="978.9" cy="714.8" r="5.5"/><circle cx="815.8" cy="848.1" r="5.5"/><circle cx="903.8" cy="737.6" r="5.5"/><circle cx="920.3" cy="747.0" r="5.5"/><circle cx="1006.8" cy="706.1" r="5.5"/><circle cx="889.2" cy="786.2" r="5.5"/><circle cx="994.6" cy="696.6" r="5.5"/><circle cx="927.2" cy="740.9" r="5.5"/><circle cx="965.9" cy="714.5" r="5.5"/><circle cx="847.1" cy="791.4" r="5.5"/><circle cx="881.1" cy="803.3" r="5.5"/><circle cx="922.5" cy="718.4" r="5.5"/><circle cx="838.2" cy="817.9" r="5.5"/><circle cx="917.1" cy="736.8" r="5.5"/><circle cx="1011.8" cy="678.4" r="5.5"/><circle cx="946.3" cy="716.1" r="5.5"/><circle cx="942.5" cy="752.7" r="5.5"/><circle cx="906.8" cy="732.2" r="5.5"/><circle cx="910.3" cy="773.9" r="5.5"/><circle cx="851.5" cy="782.6" r="5.5"/><circle cx="1030.4" cy="681.0" r="5.5"/><circle cx="984.5" cy="679.8" r="5.5"/><circle cx="935.3" cy="746.1" r="5.5"/><circle cx="920.5" cy="760.1" r="5.5"/><circle cx="867.1" cy="801.2" r="5.5"/><circle cx="903.7" cy="739.0" r="5.5"/><circle cx="909.5" cy="781.3" r="5.5"/><circle cx="1014.0" cy="664.0" r="5.5"/><circle cx="871.9" cy="792.8" r="5.5"/><circle cx="1010.9" cy="678.9" r="5.5"/><circle cx="956.2" cy="695.1" r="5.5"/><circle cx="830.2" cy="826.9" r="5.5"/><circle cx="969.8" cy="701.2" r="5.5"/><circle cx="826.5" cy="833.1" r="5.5"/><circle cx="826.8" cy="832.1" r="5.5"/><circle cx="814.2" cy="841.6" r="5.5"/><circle cx="960.2" cy="718.1" r="5.5"/><circle cx="1025.2" cy="656.3" r="5.5"/><circle cx="993.3" cy="689.3" r="5.5"/><circle cx="864.4" cy="771.4" r="5.5"/><circle cx="873.5" cy="778.2" r="5.5"/><circle cx="948.8" cy="710.6" r="5.5"/><circle cx="861.3" cy="773.3" r="5.5"/><circle cx="964.4" cy="689.7" r="5.5"/><circle cx="908.8" cy="758.9" r="5.5"/><circle cx="979.3" cy="710.8" r="5.5"/><circle cx="913.3" cy="783.6" r="5.5"/><circle cx="820.4" cy="827.4" r="5.5"/><circle cx="914.6" cy="776.6" r="5.5"/><circle cx="1026.5" cy="679.9" r="5.5"/><circle cx="964.2" cy="738.3" r="5.5"/><circle cx="983.6" cy="704.2" r="5.5"/><circle cx="974.4" cy="725.3" r="5.5"/><circle cx="862.6" cy="801.1" r="5.5"/><circle cx="801.2" cy="840.2" r="5.5"/><circle cx="901.7" cy="757.1" r="5.5"/><circle cx="836.3" cy="800.1" r="5.5"/><circle cx="1012.6" cy="667.1" r="5.5"/><circle cx="865.9" cy="791.2" r="5.5"/><circle cx="938.8" cy="726.1" r="5.5"/><circle cx="976.6" cy="719.2" r="5.5"/><circle cx="853.8" cy="783.0" r="5.5"/><circle cx="1009.5" cy="659.6" r="5.5"/><circle cx="1030.8" cy="641.1" r="5.5"/><circle cx="923.8" cy="765.3" r="5.5"/><circle cx="1024.0" cy="678.4" r="5.5"/><circle cx="1032.5" cy="653.8" r="5.5"/><circle cx="838.9" cy="789.3" r="5.5"/><circle cx="1004.4" cy="659.0" r="5.5"/><circle cx="898.1" cy="746.0" r="5.5"/><circle cx="830.0" cy="823.1" r="5.5"/><circle cx="786.2" cy="869.0" r="5.5"/><circle cx="1029.5" cy="645.6" r="5.5"/><circle cx="915.1" cy="719.0" r="5.5"/><circle cx="942.5" cy="738.7" r="5.5"/><circle cx="1027.7" cy="643.7" r="5.5"/><circle cx="907.0" cy="783.5" r="5.5"/><circle cx="968.2" cy="703.9" r="5.5"/><circle cx="889.5" cy="758.0" r="5.5"/><circle cx="780.3" cy="877.8" r="5.5"/><circle cx="1026.3" cy="672.3" r="5.5"/><circle cx="895.7" cy="739.1" r="5.5"/><circle cx="810.6" cy="836.6" r="5.5"/><circle cx="817.2" cy="813.3" r="5.5"/><circle cx="919.0" cy="724.1" r="5.5"/><circle cx="910.5" cy="752.0" r="5.5"/><circle cx="913.1" cy="761.4" r="5.5"/><circle cx="835.9" cy="834.0" r="5.5"/><circle cx="949.6" cy="747.1" r="5.5"/><circle cx="932.2" cy="743.8" r="5.5"/><circle cx="884.6" cy="786.1" r="5.5"/><circle cx="895.1" cy="798.6" r="5.5"/><circle cx="994.1" cy="665.1" r="5.5"/><circle cx="882.7" cy="759.6" r="5.5"/><circle cx="915.3" cy="767.3" r="5.5"/><circle cx="911.2" cy="766.6" r="5.5"/><circle cx="969.7" cy="725.8" r="5.5"/><circle cx="862.7" cy="764.8" r="5.5"/><circle cx="1028.4" cy="660.3" r="5.5"/><circle cx="1021.5" cy="687.7" r="5.5"/><circle cx="824.0" cy="812.4" r="5.5"/><circle cx="1017.0" cy="685.8" r="5.5"/><circle cx="1020.2" cy="700.6" r="5.5"/><circle cx="935.0" cy="752.0" r="5.5"/><circle cx="1038.5" cy="662.5" r="5.5"/><circle cx="947.0" cy="709.4" r="5.5"/><circle cx="877.1" cy="758.9" r="5.5"/><circle cx="827.2" cy="822.2" r="5.5"/><circle cx="871.4" cy="778.5" r="5.5"/><circle cx="820.6" cy="824.6" r="5.5"/><circle cx="878.4" cy="751.2" r="5.5"/><circle cx="990.8" cy="676.6" r="5.5"/><circle cx="952.0" cy="701.2" r="5.5"/><circle cx="996.9" cy="662.3" r="5.5"/><circle cx="959.1" cy="697.8" r="5.5"/><circle cx="1037.4" cy="664.6" r="5.5"/><circle cx="815.8" cy="844.0" r="5.5"/><circle cx="898.8" cy="769.9" r="5.5"/><circle cx="1037.7" cy="656.5" r="5.5"/><circle cx="966.9" cy="699.2" r="5.5"/><circle cx="873.4" cy="791.0" r="5.5"/><circle cx="1004.1" cy="695.6" r="5.5"/><circle cx="1032.7" cy="661.7" r="5.5"/><circle cx="918.8" cy="769.7" r="5.5"/><circle cx="812.6" cy="824.9" r="5.5"/><circle cx="989.2" cy="683.4" r="5.5"/><circle cx="994.5" cy="692.7" r="5.5"/><circle cx="796.6" cy="860.8" r="5.5"/><circle cx="1019.9" cy="689.9" r="5.5"/><circle cx="906.2" cy="764.2" r="5.5"/><circle cx="961.8" cy="736.2" r="5.5"/><circle cx="821.4" cy="809.5" r="5.5"/><circle cx="971.1" cy="704.9" r="5.5"/><circle cx="848.2" cy="824.0" r="5.5"/><circle cx="977.8" cy="722.2" r="5.5"/><circle cx="927.4" cy="710.1" r="5.5"/><circle cx="842.7" cy="804.0" r="5.5"/><circle cx="917.1" cy="748.6" r="5.5"/><circle cx="980.7" cy="695.6" r="5.5"/><circle cx="975.5" cy="696.6" r="5.5"/><circle cx="1037.3" cy="644.6" r="5.5"/><circle cx="921.5" cy="746.7" r="5.5"/><circle cx="1033.9" cy="637.0" r="5.5"/><circle cx="1035.9" cy="670.1" r="5.5"/><circle cx="973.0" cy="715.8" r="5.5"/><circle cx="891.5" cy="769.1" r="5.5"/><circle cx="924.2" cy="747.7" r="5.5"/><circle cx="894.0" cy="738.0" r="5.5"/><circle cx="942.2" cy="752.3" r="5.5"/><circle cx="988.6" cy="700.9" r="5.5"/><circle cx="798.5" cy="847.1" r="5.5"/><circle cx="1011.2" cy="702.0" r="5.5"/><circle cx="981.8" cy="673.0" r="5.5"/><circle cx="886.3" cy="768.1" r="5.5"/><circle cx="822.5" cy="836.5" r="5.5"/><circle cx="865.4" cy="801.5" r="5.5"/><circle cx="913.9" cy="745.9" r="5.5"/><circle cx="957.1" cy="730.7" r="5.5"/><circle cx="892.7" cy="791.3" r="5.5"/><circle cx="1012.8" cy="680.2" r="5.5"/><circle cx="876.9" cy="755.8" r="5.5"/><circle cx="906.9" cy="749.6" r="5.5"/><circle cx="875.8" cy="796.5" r="5.5"/><circle cx="975.4" cy="702.2" r="5.5"/><circle cx="916.8" cy="767.0" r="5.5"/><circle cx="1009.3" cy="693.9" r="5.5"/><circle cx="870.7" cy="809.1" r="5.5"/><circle cx="996.1" cy="693.3" r="5.5"/><circle cx="945.9" cy="746.5" r="5.5"/><circle cx="997.4" cy="668.6" r="5.5"/><circle cx="999.2" cy="690.8" r="5.5"/><circle cx="928.5" cy="741.7" r="5.5"/><circle cx="924.3" cy="730.7" r="5.5"/><circle cx="903.1" cy="737.6" r="5.5"/><circle cx="952.1" cy="717.4" r="5.5"/><circle cx="879.1" cy="764.3" r="5.5"/><circle cx="833.4" cy="835.2" r="5.5"/><circle cx="996.0" cy="669.1" r="5.5"/><circle cx="885.4" cy="763.8" r="5.5"/><circle cx="879.7" cy="780.3" r="5.5"/><circle cx="955.4" cy="743.6" r="5.5"/><circle cx="938.4" cy="712.1" r="5.5"/><circle cx="886.0" cy="802.0" r="5.5"/><circle cx="857.4" cy="792.1" r="5.5"/><circle cx="839.6" cy="799.1" r="5.5"/><circle cx="988.9" cy="676.3" r="5.5"/><circle cx="871.2" cy="782.2" r="5.5"/><circle cx="938.0" cy="732.4" r="5.5"/><circle cx="1017.0" cy="665.8" r="5.5"/><circle cx="928.8" cy="740.9" r="5.5"/><circle cx="843.4" cy="824.1" r="5.5"/><circle cx="900.0" cy="770.0" r="5.5"/><circle cx="932.0" cy="731.9" r="5.5"/><circle cx="840.4" cy="796.6" r="5.5"/><circle cx="793.1" cy="861.2" r="5.5"/><circle cx="931.0" cy="742.5" r="5.5"/><circle cx="1002.3" cy="672.7" r="5.5"/><circle cx="1015.1" cy="683.9" r="5.5"/><circle cx="988.6" cy="665.6" r="5.5"/><circle cx="845.1" cy="824.0" r="5.5"/><circle cx="844.5" cy="805.5" r="5.5"/><circle cx="935.6" cy="724.6" r="5.5"/><circle cx="1001.5" cy="692.1" r="5.5"/><circle cx="852.7" cy="786.8" r="5.5"/><circle cx="958.7" cy="717.2" r="5.5"/><circle cx="984.3" cy="697.0" r="5.5"/><circle cx="888.1" cy="794.3" r="5.5"/><circle cx="925.2" cy="773.3" r="5.5"/><circle cx="936.5" cy="708.3" r="5.5"/><circle cx="1097.9" cy="579.6" r="5.5"/><circle cx="1126.5" cy="565.1" r="5.5"/><circle cx="1138.9" cy="561.1" r="5.5"/><circle cx="1124.8" cy="593.0" r="5.5"/><circle cx="1076.0" cy="612.2" r="5.5"/><circle cx="1086.1" cy="618.9" r="5.5"/><circle cx="1062.6" cy="621.6" r="5.5"/><circle cx="1050.8" cy="634.1" r="5.5"/><circle cx="1079.4" cy="635.7" r="5.5"/><circle cx="1116.4" cy="634.1" r="5.5"/><circle cx="1104.6" cy="636.8" r="5.5"/><circle cx="1094.5" cy="649.9" r="5.5"/><circle cx="1055.9" cy="656.9" r="5.5"/><circle cx="1040.1" cy="612.9" r="5.5"/><circle cx="943.2" cy="762.5" r="5.5"/><circle cx="780.1" cy="877.8" r="5.5"/></g>
<text x="774.5" y="586.8" font-size="29.8">Library1 vs. Library2</text>
<text x="1134.0" y="874" font-size="29.4" text-anchor="end" fill="#C8383E" style="stroke:#C8383E"><tspan font-style="italic">R</tspan> = 0.963</text>
<rect x="1245.6" y="549" width="390.1" height="342.6" fill="none" stroke="#000" stroke-width="2.8"/>
<line x1="1239.1" y1="877.3" x2="1245.6" y2="877.3" stroke="#000" stroke-width="2.8" />
<text x="1232.8" y="885.9" font-size="29.3" text-anchor="end">0</text>
<line x1="1239.1" y1="817.2" x2="1245.6" y2="817.2" stroke="#000" stroke-width="2.8" />
<text x="1232.8" y="825.8" font-size="29.3" text-anchor="end">50</text>
<line x1="1239.1" y1="757.0" x2="1245.6" y2="757.0" stroke="#000" stroke-width="2.8" />
<text x="1232.8" y="765.6" font-size="29.3" text-anchor="end">100</text>
<line x1="1239.1" y1="696.9" x2="1245.6" y2="696.9" stroke="#000" stroke-width="2.8" />
<text x="1232.8" y="705.5" font-size="29.3" text-anchor="end">150</text>
<line x1="1239.1" y1="636.7" x2="1245.6" y2="636.7" stroke="#000" stroke-width="2.8" />
<text x="1232.8" y="645.3" font-size="29.3" text-anchor="end">200</text>
<line x1="1239.1" y1="576.6" x2="1245.6" y2="576.6" stroke="#000" stroke-width="2.8" />
<text x="1232.8" y="585.2" font-size="29.3" text-anchor="end">250</text>
<line x1="1259.9" y1="891.6" x2="1259.9" y2="898.1" stroke="#000" stroke-width="2.8" />
<text x="1259.9" y="925.5" font-size="29.3" text-anchor="middle">0</text>
<line x1="1330.8" y1="891.6" x2="1330.8" y2="898.1" stroke="#000" stroke-width="2.8" />
<text x="1330.8" y="925.5" font-size="29.3" text-anchor="middle">50</text>
<line x1="1401.7" y1="891.6" x2="1401.7" y2="898.1" stroke="#000" stroke-width="2.8" />
<text x="1401.7" y="925.5" font-size="29.3" text-anchor="middle">100</text>
<line x1="1472.5" y1="891.6" x2="1472.5" y2="898.1" stroke="#000" stroke-width="2.8" />
<text x="1472.5" y="925.5" font-size="29.3" text-anchor="middle">150</text>
<line x1="1543.4" y1="891.6" x2="1543.4" y2="898.1" stroke="#000" stroke-width="2.8" />
<text x="1543.4" y="925.5" font-size="29.3" text-anchor="middle">200</text>
<line x1="1614.3" y1="891.6" x2="1614.3" y2="898.1" stroke="#000" stroke-width="2.8" />
<text x="1614.3" y="925.5" font-size="29.3" text-anchor="middle">250</text>
<text x="1440.7" y="967.6" font-size="29.8" text-anchor="middle"><tspan font-style="italic">PB</tspan> site counts</text>
<text x="1440.7" y="1001.6" font-size="29.8" text-anchor="middle">per 10 kb window</text>
<g fill="#CC8C18" stroke="#fff" stroke-width="1.7"><circle cx="1360.1" cy="795.6" r="5.5"/><circle cx="1328.1" cy="829.9" r="5.5"/><circle cx="1441.4" cy="743.4" r="5.5"/><circle cx="1345.0" cy="804.5" r="5.5"/><circle cx="1416.0" cy="773.5" r="5.5"/><circle cx="1310.5" cy="822.2" r="5.5"/><circle cx="1453.9" cy="714.4" r="5.5"/><circle cx="1300.3" cy="848.0" r="5.5"/><circle cx="1318.0" cy="819.1" r="5.5"/><circle cx="1330.9" cy="824.6" r="5.5"/><circle cx="1326.9" cy="831.9" r="5.5"/><circle cx="1296.6" cy="849.0" r="5.5"/><circle cx="1429.5" cy="718.4" r="5.5"/><circle cx="1373.4" cy="793.1" r="5.5"/><circle cx="1367.2" cy="776.1" r="5.5"/><circle cx="1397.8" cy="736.0" r="5.5"/><circle cx="1407.6" cy="760.3" r="5.5"/><circle cx="1383.6" cy="796.4" r="5.5"/><circle cx="1444.9" cy="704.0" r="5.5"/><circle cx="1371.5" cy="761.8" r="5.5"/><circle cx="1354.4" cy="789.6" r="5.5"/><circle cx="1266.0" cy="870.9" r="5.5"/><circle cx="1333.5" cy="813.1" r="5.5"/><circle cx="1513.6" cy="659.2" r="5.5"/><circle cx="1415.3" cy="730.8" r="5.5"/><circle cx="1474.4" cy="705.0" r="5.5"/><circle cx="1325.3" cy="824.9" r="5.5"/><circle cx="1322.5" cy="818.4" r="5.5"/><circle cx="1447.3" cy="709.0" r="5.5"/><circle cx="1515.0" cy="685.1" r="5.5"/><circle cx="1432.6" cy="742.9" r="5.5"/><circle cx="1403.8" cy="760.1" r="5.5"/><circle cx="1392.4" cy="755.8" r="5.5"/><circle cx="1467.5" cy="712.1" r="5.5"/><circle cx="1487.3" cy="692.5" r="5.5"/><circle cx="1407.1" cy="761.5" r="5.5"/><circle cx="1522.5" cy="658.9" r="5.5"/><circle cx="1367.2" cy="776.7" r="5.5"/><circle cx="1434.1" cy="737.9" r="5.5"/><circle cx="1375.5" cy="762.2" r="5.5"/><circle cx="1351.2" cy="792.9" r="5.5"/><circle cx="1410.2" cy="743.7" r="5.5"/><circle cx="1469.4" cy="696.7" r="5.5"/><circle cx="1358.5" cy="788.6" r="5.5"/><circle cx="1389.9" cy="744.9" r="5.5"/><circle cx="1383.7" cy="783.2" r="5.5"/><circle cx="1391.1" cy="773.4" r="5.5"/><circle cx="1379.9" cy="797.1" r="5.5"/><circle cx="1384.9" cy="798.6" r="5.5"/><circle cx="1386.8" cy="784.0" r="5.5"/><circle cx="1404.0" cy="732.9" r="5.5"/><circle cx="1514.2" cy="668.7" r="5.5"/><circle cx="1423.8" cy="759.9" r="5.5"/><circle cx="1510.1" cy="684.1" r="5.5"/><circle cx="1510.6" cy="657.3" r="5.5"/><circle cx="1328.3" cy="831.7" r="5.5"/><circle cx="1447.0" cy="704.7" r="5.5"/><circle cx="1501.3" cy="697.1" r="5.5"/><circle cx="1323.7" cy="841.0" r="5.5"/><circle cx="1436.6" cy="739.6" r="5.5"/><circle cx="1352.3" cy="817.0" r="5.5"/><circle cx="1355.0" cy="805.7" r="5.5"/><circle cx="1429.3" cy="757.3" r="5.5"/><circle cx="1480.6" cy="718.4" r="5.5"/><circle cx="1482.3" cy="721.4" r="5.5"/><circle cx="1451.0" cy="730.6" r="5.5"/><circle cx="1519.9" cy="674.3" r="5.5"/><circle cx="1492.8" cy="689.9" r="5.5"/><circle cx="1380.2" cy="773.1" r="5.5"/><circle cx="1457.4" cy="704.9" r="5.5"/><circle cx="1475.9" cy="707.0" r="5.5"/><circle cx="1269.3" cy="868.6" r="5.5"/><circle cx="1408.9" cy="759.6" r="5.5"/><circle cx="1371.8" cy="794.4" r="5.5"/><circle cx="1390.2" cy="753.1" r="5.5"/><circle cx="1336.3" cy="819.3" r="5.5"/><circle cx="1398.8" cy="753.6" r="5.5"/><circle cx="1392.2" cy="782.5" r="5.5"/><circle cx="1302.7" cy="829.0" r="5.5"/><circle cx="1305.4" cy="821.5" r="5.5"/><circle cx="1385.2" cy="771.2" r="5.5"/><circle cx="1312.7" cy="849.2" r="5.5"/><circle cx="1450.4" cy="743.1" r="5.5"/><circle cx="1319.9" cy="829.5" r="5.5"/><circle cx="1358.9" cy="780.4" r="5.5"/><circle cx="1466.0" cy="720.1" r="5.5"/><circle cx="1386.8" cy="786.7" r="5.5"/><circle cx="1463.5" cy="692.9" r="5.5"/><circle cx="1444.1" cy="748.7" r="5.5"/><circle cx="1438.2" cy="746.5" r="5.5"/><circle cx="1421.8" cy="765.4" r="5.5"/><circle cx="1397.8" cy="776.7" r="5.5"/><circle cx="1364.2" cy="791.1" r="5.5"/><circle cx="1294.6" cy="833.8" r="5.5"/><circle cx="1453.3" cy="723.4" r="5.5"/><circle cx="1410.5" cy="751.8" r="5.5"/><circle cx="1458.6" cy="696.5" r="5.5"/><circle cx="1442.4" cy="707.8" r="5.5"/><circle cx="1481.4" cy="716.1" r="5.5"/><circle cx="1378.4" cy="769.9" r="5.5"/><circle cx="1367.6" cy="795.7" r="5.5"/><circle cx="1426.6" cy="721.1" r="5.5"/><circle cx="1434.3" cy="750.1" r="5.5"/><circle cx="1460.0" cy="710.1" r="5.5"/><circle cx="1296.2" cy="826.9" r="5.5"/><circle cx="1415.0" cy="754.5" r="5.5"/><circle cx="1482.0" cy="708.2" r="5.5"/><circle cx="1310.7" cy="843.4" r="5.5"/><circle cx="1401.4" cy="740.4" r="5.5"/><circle cx="1461.2" cy="729.4" r="5.5"/><circle cx="1359.4" cy="783.2" r="5.5"/><circle cx="1438.4" cy="753.0" r="5.5"/><circle cx="1368.7" cy="768.3" r="5.5"/><circle cx="1316.6" cy="839.9" r="5.5"/><circle cx="1424.6" cy="754.7" r="5.5"/><circle cx="1380.6" cy="783.8" r="5.5"/><circle cx="1339.3" cy="813.0" r="5.5"/><circle cx="1438.2" cy="732.0" r="5.5"/><circle cx="1421.5" cy="755.2" r="5.5"/><circle cx="1484.9" cy="706.5" r="5.5"/><circle cx="1329.5" cy="818.7" r="5.5"/><circle cx="1403.6" cy="769.3" r="5.5"/><circle cx="1473.8" cy="717.6" r="5.5"/><circle cx="1282.6" cy="857.3" r="5.5"/><circle cx="1271.9" cy="866.3" r="5.5"/><circle cx="1405.2" cy="757.7" r="5.5"/><circle cx="1465.9" cy="717.3" r="5.5"/><circle cx="1432.2" cy="759.6" r="5.5"/><circle cx="1399.6" cy="756.0" r="5.5"/><circle cx="1496.8" cy="674.8" r="5.5"/><circle cx="1494.6" cy="704.6" r="5.5"/><circle cx="1376.6" cy="804.7" r="5.5"/><circle cx="1430.0" cy="731.1" r="5.5"/><circle cx="1370.1" cy="775.1" r="5.5"/><circle cx="1517.3" cy="670.5" r="5.5"/><circle cx="1497.0" cy="687.6" r="5.5"/><circle cx="1388.6" cy="751.3" r="5.5"/><circle cx="1441.8" cy="750.0" r="5.5"/><circle cx="1490.6" cy="717.4" r="5.5"/><circle cx="1436.0" cy="713.6" r="5.5"/><circle cx="1427.6" cy="712.5" r="5.5"/><circle cx="1420.2" cy="733.6" r="5.5"/><circle cx="1379.1" cy="785.3" r="5.5"/><circle cx="1284.7" cy="856.1" r="5.5"/><circle cx="1374.2" cy="755.6" r="5.5"/><circle cx="1505.2" cy="694.3" r="5.5"/><circle cx="1393.6" cy="762.7" r="5.5"/><circle cx="1471.5" cy="714.5" r="5.5"/><circle cx="1476.6" cy="700.2" r="5.5"/><circle cx="1412.6" cy="739.4" r="5.5"/><circle cx="1418.5" cy="726.1" r="5.5"/><circle cx="1378.0" cy="791.2" r="5.5"/><circle cx="1456.8" cy="713.9" r="5.5"/><circle cx="1334.1" cy="803.8" r="5.5"/><circle cx="1429.9" cy="743.8" r="5.5"/><circle cx="1442.1" cy="714.9" r="5.5"/><circle cx="1294.4" cy="840.9" r="5.5"/><circle cx="1418.1" cy="724.3" r="5.5"/><circle cx="1415.5" cy="723.4" r="5.5"/><circle cx="1418.5" cy="758.7" r="5.5"/><circle cx="1507.1" cy="690.3" r="5.5"/><circle cx="1424.3" cy="727.0" r="5.5"/><circle cx="1402.8" cy="765.7" r="5.5"/><circle cx="1310.4" cy="837.1" r="5.5"/><circle cx="1323.4" cy="824.0" r="5.5"/><circle cx="1356.8" cy="791.9" r="5.5"/><circle cx="1492.8" cy="705.6" r="5.5"/><circle cx="1316.5" cy="832.5" r="5.5"/><circle cx="1488.4" cy="715.3" r="5.5"/><circle cx="1458.9" cy="713.5" r="5.5"/><circle cx="1310.8" cy="829.6" r="5.5"/><circle cx="1500.7" cy="670.7" r="5.5"/><circle cx="1320.1" cy="830.0" r="5.5"/><circle cx="1298.7" cy="829.8" r="5.5"/><circle cx="1511.1" cy="676.8" r="5.5"/><circle cx="1504.8" cy="688.5" r="5.5"/><circle cx="1307.0" cy="842.2" r="5.5"/><circle cx="1443.7" cy="709.3" r="5.5"/><circle cx="1411.3" cy="768.3" r="5.5"/><circle cx="1430.9" cy="726.6" r="5.5"/><circle cx="1378.3" cy="794.6" r="5.5"/><circle cx="1463.9" cy="721.7" r="5.5"/><circle cx="1490.6" cy="706.2" r="5.5"/><circle cx="1493.8" cy="688.3" r="5.5"/><circle cx="1277.8" cy="861.4" r="5.5"/><circle cx="1431.9" cy="756.7" r="5.5"/><circle cx="1288.3" cy="851.7" r="5.5"/><circle cx="1388.1" cy="746.4" r="5.5"/><circle cx="1508.0" cy="688.6" r="5.5"/><circle cx="1512.3" cy="685.8" r="5.5"/><circle cx="1276.2" cy="863.8" r="5.5"/><circle cx="1472.5" cy="715.0" r="5.5"/><circle cx="1302.5" cy="845.6" r="5.5"/><circle cx="1348.7" cy="803.8" r="5.5"/><circle cx="1425.3" cy="716.2" r="5.5"/><circle cx="1289.9" cy="844.9" r="5.5"/><circle cx="1341.8" cy="823.3" r="5.5"/><circle cx="1339.0" cy="823.6" r="5.5"/><circle cx="1396.5" cy="758.8" r="5.5"/><circle cx="1333.3" cy="834.0" r="5.5"/><circle cx="1308.3" cy="835.5" r="5.5"/><circle cx="1396.5" cy="784.1" r="5.5"/><circle cx="1518.4" cy="665.2" r="5.5"/><circle cx="1421.0" cy="760.5" r="5.5"/><circle cx="1370.9" cy="797.6" r="5.5"/><circle cx="1461.8" cy="723.2" r="5.5"/><circle cx="1446.7" cy="740.8" r="5.5"/><circle cx="1264.4" cy="873.2" r="5.5"/><circle cx="1353.6" cy="792.0" r="5.5"/><circle cx="1348.7" cy="806.3" r="5.5"/><circle cx="1352.3" cy="783.9" r="5.5"/><circle cx="1501.6" cy="680.2" r="5.5"/><circle cx="1505.3" cy="693.7" r="5.5"/><circle cx="1362.0" cy="789.2" r="5.5"/><circle cx="1337.5" cy="799.4" r="5.5"/><circle cx="1362.0" cy="794.2" r="5.5"/><circle cx="1473.6" cy="695.6" r="5.5"/><circle cx="1317.2" cy="814.8" r="5.5"/><circle cx="1397.5" cy="764.4" r="5.5"/><circle cx="1262.5" cy="875.5" r="5.5"/><circle cx="1389.6" cy="764.7" r="5.5"/><circle cx="1345.7" cy="793.8" r="5.5"/><circle cx="1469.5" cy="716.3" r="5.5"/><circle cx="1314.7" cy="847.9" r="5.5"/><circle cx="1341.1" cy="826.8" r="5.5"/><circle cx="1495.4" cy="706.9" r="5.5"/><circle cx="1535.2" cy="659.3" r="5.5"/><circle cx="1565.4" cy="641.5" r="5.5"/><circle cx="1558.0" cy="623.3" r="5.5"/><circle cx="1560.4" cy="603.8" r="5.5"/><circle cx="1575.5" cy="607.2" r="5.5"/><circle cx="1587.3" cy="609.9" r="5.5"/><circle cx="1575.5" cy="615.6" r="5.5"/><circle cx="1597.4" cy="587.0" r="5.5"/><circle cx="1605.8" cy="592.0" r="5.5"/><circle cx="1595.7" cy="577.6" r="5.5"/><circle cx="1607.5" cy="561.1" r="5.5"/><circle cx="1619.9" cy="562.4" r="5.5"/><circle cx="1489.8" cy="721.5" r="5.5"/><circle cx="1424.2" cy="778.0" r="5.5"/><circle cx="1335.1" cy="841.9" r="5.5"/><circle cx="1298.1" cy="819.0" r="5.5"/><circle cx="1261.1" cy="875.5" r="5.5"/></g>
<text x="1258.6" y="586.8" font-size="29.8">Library1 vs. Library3</text>
<text x="1614.7" y="874" font-size="29.4" text-anchor="end" fill="#CC8C18" style="stroke:#CC8C18"><tspan font-style="italic">R</tspan> = 0.974</text>
<rect x="1729.4" y="549" width="387.8" height="343.5" fill="none" stroke="#000" stroke-width="2.8"/>
<line x1="1722.9" y1="877.3" x2="1729.4" y2="877.3" stroke="#000" stroke-width="2.8" />
<text x="1716.6" y="885.9" font-size="29.3" text-anchor="end">0</text>
<line x1="1722.9" y1="817.2" x2="1729.4" y2="817.2" stroke="#000" stroke-width="2.8" />
<text x="1716.6" y="825.8" font-size="29.3" text-anchor="end">50</text>
<line x1="1722.9" y1="757.0" x2="1729.4" y2="757.0" stroke="#000" stroke-width="2.8" />
<text x="1716.6" y="765.6" font-size="29.3" text-anchor="end">100</text>
<line x1="1722.9" y1="696.9" x2="1729.4" y2="696.9" stroke="#000" stroke-width="2.8" />
<text x="1716.6" y="705.5" font-size="29.3" text-anchor="end">150</text>
<line x1="1722.9" y1="636.7" x2="1729.4" y2="636.7" stroke="#000" stroke-width="2.8" />
<text x="1716.6" y="645.3" font-size="29.3" text-anchor="end">200</text>
<line x1="1722.9" y1="576.6" x2="1729.4" y2="576.6" stroke="#000" stroke-width="2.8" />
<text x="1716.6" y="585.2" font-size="29.3" text-anchor="end">250</text>
<line x1="1743.2" y1="892.5" x2="1743.2" y2="899.0" stroke="#000" stroke-width="2.8" />
<text x="1743.2" y="925.5" font-size="29.3" text-anchor="middle">0</text>
<line x1="1821.7" y1="892.5" x2="1821.7" y2="899.0" stroke="#000" stroke-width="2.8" />
<text x="1821.7" y="925.5" font-size="29.3" text-anchor="middle">50</text>
<line x1="1900.2" y1="892.5" x2="1900.2" y2="899.0" stroke="#000" stroke-width="2.8" />
<text x="1900.2" y="925.5" font-size="29.3" text-anchor="middle">100</text>
<line x1="1978.7" y1="892.5" x2="1978.7" y2="899.0" stroke="#000" stroke-width="2.8" />
<text x="1978.7" y="925.5" font-size="29.3" text-anchor="middle">150</text>
<line x1="2057.2" y1="892.5" x2="2057.2" y2="899.0" stroke="#000" stroke-width="2.8" />
<text x="2057.2" y="925.5" font-size="29.3" text-anchor="middle">200</text>
<text x="1923.3" y="967.6" font-size="29.8" text-anchor="middle"><tspan font-style="italic">PB</tspan> site counts</text>
<text x="1923.3" y="1001.6" font-size="29.8" text-anchor="middle">per 10 kb window</text>
<g fill="#1473C0" stroke="#fff" stroke-width="1.7"><circle cx="1956.8" cy="699.0" r="5.5"/><circle cx="1897.6" cy="745.5" r="5.5"/><circle cx="1898.4" cy="747.3" r="5.5"/><circle cx="1865.1" cy="804.8" r="5.5"/><circle cx="1876.0" cy="798.4" r="5.5"/><circle cx="1890.4" cy="788.8" r="5.5"/><circle cx="1881.1" cy="758.1" r="5.5"/><circle cx="1818.5" cy="846.1" r="5.5"/><circle cx="1835.1" cy="806.7" r="5.5"/><circle cx="1824.7" cy="841.7" r="5.5"/><circle cx="1859.3" cy="770.1" r="5.5"/><circle cx="1966.6" cy="676.0" r="5.5"/><circle cx="1902.0" cy="747.0" r="5.5"/><circle cx="1953.6" cy="727.2" r="5.5"/><circle cx="1856.4" cy="777.3" r="5.5"/><circle cx="1974.8" cy="701.8" r="5.5"/><circle cx="1827.1" cy="794.2" r="5.5"/><circle cx="1887.8" cy="739.8" r="5.5"/><circle cx="1941.7" cy="720.7" r="5.5"/><circle cx="1906.4" cy="740.6" r="5.5"/><circle cx="1855.9" cy="791.9" r="5.5"/><circle cx="1983.1" cy="685.0" r="5.5"/><circle cx="1985.1" cy="669.9" r="5.5"/><circle cx="1840.0" cy="808.4" r="5.5"/><circle cx="1822.9" cy="830.8" r="5.5"/><circle cx="1801.8" cy="843.1" r="5.5"/><circle cx="1993.2" cy="685.5" r="5.5"/><circle cx="1929.0" cy="739.4" r="5.5"/><circle cx="1861.7" cy="789.8" r="5.5"/><circle cx="1918.6" cy="747.1" r="5.5"/><circle cx="1990.5" cy="691.9" r="5.5"/><circle cx="1816.9" cy="830.1" r="5.5"/><circle cx="1767.3" cy="859.2" r="5.5"/><circle cx="1947.6" cy="703.7" r="5.5"/><circle cx="1986.4" cy="686.1" r="5.5"/><circle cx="1895.5" cy="759.2" r="5.5"/><circle cx="1917.0" cy="725.5" r="5.5"/><circle cx="1960.2" cy="725.7" r="5.5"/><circle cx="1980.2" cy="697.4" r="5.5"/><circle cx="1800.7" cy="831.6" r="5.5"/><circle cx="1947.6" cy="714.9" r="5.5"/><circle cx="1754.8" cy="868.5" r="5.5"/><circle cx="1992.7" cy="675.2" r="5.5"/><circle cx="1891.0" cy="744.2" r="5.5"/><circle cx="1815.1" cy="803.7" r="5.5"/><circle cx="1971.0" cy="711.1" r="5.5"/><circle cx="1935.8" cy="736.5" r="5.5"/><circle cx="1864.0" cy="776.7" r="5.5"/><circle cx="1886.8" cy="742.4" r="5.5"/><circle cx="1861.2" cy="811.6" r="5.5"/><circle cx="1805.6" cy="817.4" r="5.5"/><circle cx="1830.8" cy="804.1" r="5.5"/><circle cx="1976.7" cy="698.8" r="5.5"/><circle cx="1922.4" cy="740.1" r="5.5"/><circle cx="1789.6" cy="845.3" r="5.5"/><circle cx="1930.2" cy="755.6" r="5.5"/><circle cx="1889.6" cy="764.9" r="5.5"/><circle cx="1961.1" cy="697.8" r="5.5"/><circle cx="1849.1" cy="800.5" r="5.5"/><circle cx="1956.8" cy="687.1" r="5.5"/><circle cx="1940.4" cy="747.9" r="5.5"/><circle cx="1759.9" cy="863.3" r="5.5"/><circle cx="1961.2" cy="689.8" r="5.5"/><circle cx="1932.8" cy="715.5" r="5.5"/><circle cx="1942.0" cy="747.0" r="5.5"/><circle cx="1951.0" cy="716.2" r="5.5"/><circle cx="1807.1" cy="839.5" r="5.5"/><circle cx="1809.3" cy="847.8" r="5.5"/><circle cx="1820.1" cy="796.9" r="5.5"/><circle cx="1828.8" cy="816.1" r="5.5"/><circle cx="1834.1" cy="827.1" r="5.5"/><circle cx="1763.7" cy="862.2" r="5.5"/><circle cx="1914.9" cy="758.5" r="5.5"/><circle cx="1917.3" cy="727.4" r="5.5"/><circle cx="1777.4" cy="842.0" r="5.5"/><circle cx="1904.6" cy="764.2" r="5.5"/><circle cx="1924.5" cy="729.8" r="5.5"/><circle cx="1853.7" cy="774.1" r="5.5"/><circle cx="1964.0" cy="682.7" r="5.5"/><circle cx="1910.9" cy="732.8" r="5.5"/><circle cx="1876.5" cy="805.4" r="5.5"/><circle cx="1830.6" cy="829.3" r="5.5"/><circle cx="1908.3" cy="739.6" r="5.5"/><circle cx="1967.6" cy="688.6" r="5.5"/><circle cx="1825.9" cy="840.1" r="5.5"/><circle cx="1829.7" cy="785.7" r="5.5"/><circle cx="1836.0" cy="792.7" r="5.5"/><circle cx="1876.6" cy="779.8" r="5.5"/><circle cx="1862.4" cy="807.7" r="5.5"/><circle cx="1810.7" cy="831.2" r="5.5"/><circle cx="1815.5" cy="847.4" r="5.5"/><circle cx="1938.5" cy="732.7" r="5.5"/><circle cx="1907.9" cy="756.2" r="5.5"/><circle cx="1863.6" cy="765.0" r="5.5"/><circle cx="1949.6" cy="708.2" r="5.5"/><circle cx="1925.0" cy="744.9" r="5.5"/><circle cx="1950.2" cy="725.1" r="5.5"/><circle cx="1809.7" cy="821.8" r="5.5"/><circle cx="1789.9" cy="845.3" r="5.5"/><circle cx="1920.3" cy="752.6" r="5.5"/><circle cx="1857.7" cy="772.8" r="5.5"/><circle cx="1787.3" cy="846.1" r="5.5"/><circle cx="1783.3" cy="839.4" r="5.5"/><circle cx="1894.1" cy="773.0" r="5.5"/><circle cx="1977.7" cy="680.7" r="5.5"/><circle cx="1992.7" cy="698.8" r="5.5"/><circle cx="1902.4" cy="738.4" r="5.5"/><circle cx="1786.8" cy="840.9" r="5.5"/><circle cx="1912.8" cy="759.7" r="5.5"/><circle cx="1983.0" cy="658.2" r="5.5"/><circle cx="1827.5" cy="794.6" r="5.5"/><circle cx="1834.5" cy="828.9" r="5.5"/><circle cx="1807.7" cy="844.6" r="5.5"/><circle cx="1954.9" cy="722.0" r="5.5"/><circle cx="1811.5" cy="803.4" r="5.5"/><circle cx="1910.2" cy="732.9" r="5.5"/><circle cx="1925.4" cy="725.4" r="5.5"/><circle cx="1915.0" cy="745.7" r="5.5"/><circle cx="1851.4" cy="798.2" r="5.5"/><circle cx="1952.7" cy="731.6" r="5.5"/><circle cx="1968.2" cy="667.1" r="5.5"/><circle cx="1980.0" cy="675.4" r="5.5"/><circle cx="1933.5" cy="726.1" r="5.5"/><circle cx="1811.4" cy="827.5" r="5.5"/><circle cx="1938.1" cy="737.9" r="5.5"/><circle cx="1809.6" cy="815.0" r="5.5"/><circle cx="1839.1" cy="784.6" r="5.5"/><circle cx="1936.1" cy="747.4" r="5.5"/><circle cx="1866.5" cy="797.2" r="5.5"/><circle cx="1792.8" cy="825.9" r="5.5"/><circle cx="1782.8" cy="852.1" r="5.5"/><circle cx="1875.9" cy="785.9" r="5.5"/><circle cx="1894.2" cy="744.2" r="5.5"/><circle cx="1879.4" cy="763.5" r="5.5"/><circle cx="1889.1" cy="788.7" r="5.5"/><circle cx="1816.2" cy="842.3" r="5.5"/><circle cx="1889.5" cy="749.8" r="5.5"/><circle cx="1888.0" cy="744.9" r="5.5"/><circle cx="1985.7" cy="677.0" r="5.5"/><circle cx="1975.5" cy="662.6" r="5.5"/><circle cx="1967.4" cy="712.5" r="5.5"/><circle cx="1844.4" cy="784.2" r="5.5"/><circle cx="1919.6" cy="734.8" r="5.5"/><circle cx="1853.9" cy="800.3" r="5.5"/><circle cx="1948.6" cy="714.9" r="5.5"/><circle cx="1786.4" cy="848.2" r="5.5"/><circle cx="1909.8" cy="724.8" r="5.5"/><circle cx="1902.0" cy="730.9" r="5.5"/><circle cx="1856.9" cy="815.4" r="5.5"/><circle cx="1797.0" cy="839.2" r="5.5"/><circle cx="1883.0" cy="774.6" r="5.5"/><circle cx="1944.1" cy="705.5" r="5.5"/><circle cx="1970.9" cy="693.7" r="5.5"/><circle cx="1851.1" cy="817.1" r="5.5"/><circle cx="1962.5" cy="719.0" r="5.5"/><circle cx="1945.1" cy="741.2" r="5.5"/><circle cx="1807.5" cy="810.9" r="5.5"/><circle cx="1950.5" cy="734.3" r="5.5"/><circle cx="1812.0" cy="818.9" r="5.5"/><circle cx="1778.1" cy="857.6" r="5.5"/><circle cx="1925.0" cy="723.8" r="5.5"/><circle cx="1905.5" cy="728.6" r="5.5"/><circle cx="1796.4" cy="837.5" r="5.5"/><circle cx="1843.2" cy="804.4" r="5.5"/><circle cx="1893.8" cy="732.6" r="5.5"/><circle cx="1752.7" cy="870.2" r="5.5"/><circle cx="1960.6" cy="697.5" r="5.5"/><circle cx="1871.9" cy="809.1" r="5.5"/><circle cx="1877.0" cy="784.1" r="5.5"/><circle cx="1799.5" cy="823.0" r="5.5"/><circle cx="1871.4" cy="795.1" r="5.5"/><circle cx="1970.2" cy="703.4" r="5.5"/><circle cx="1965.7" cy="724.4" r="5.5"/><circle cx="1768.7" cy="855.6" r="5.5"/><circle cx="1893.0" cy="732.3" r="5.5"/><circle cx="1741.9" cy="875.5" r="5.5"/><circle cx="1823.1" cy="829.3" r="5.5"/><circle cx="1748.7" cy="872.0" r="5.5"/><circle cx="1883.0" cy="763.2" r="5.5"/><circle cx="1993.5" cy="652.0" r="5.5"/><circle cx="1958.4" cy="730.3" r="5.5"/><circle cx="1979.1" cy="689.3" r="5.5"/><circle cx="1851.5" cy="779.4" r="5.5"/><circle cx="1792.7" cy="856.1" r="5.5"/><circle cx="1924.3" cy="759.5" r="5.5"/><circle cx="1846.4" cy="800.4" r="5.5"/><circle cx="1816.4" cy="841.8" r="5.5"/><circle cx="1881.5" cy="773.3" r="5.5"/><circle cx="1849.8" cy="808.8" r="5.5"/><circle cx="1870.1" cy="802.8" r="5.5"/><circle cx="1849.0" cy="790.1" r="5.5"/><circle cx="1919.6" cy="738.1" r="5.5"/><circle cx="1848.1" cy="784.1" r="5.5"/><circle cx="1759.5" cy="866.7" r="5.5"/><circle cx="1841.0" cy="808.8" r="5.5"/><circle cx="1843.0" cy="776.8" r="5.5"/><circle cx="1884.0" cy="750.9" r="5.5"/><circle cx="1836.5" cy="833.6" r="5.5"/><circle cx="1844.0" cy="799.1" r="5.5"/><circle cx="1925.3" cy="741.4" r="5.5"/><circle cx="1868.7" cy="800.1" r="5.5"/><circle cx="1873.0" cy="805.6" r="5.5"/><circle cx="1818.6" cy="826.3" r="5.5"/><circle cx="1984.7" cy="677.8" r="5.5"/><circle cx="1930.9" cy="732.9" r="5.5"/><circle cx="1864.9" cy="769.7" r="5.5"/><circle cx="1944.3" cy="735.1" r="5.5"/><circle cx="1988.2" cy="692.1" r="5.5"/><circle cx="1802.5" cy="835.2" r="5.5"/><circle cx="1868.2" cy="784.7" r="5.5"/><circle cx="1916.0" cy="727.0" r="5.5"/><circle cx="1854.3" cy="794.4" r="5.5"/><circle cx="1852.8" cy="792.6" r="5.5"/><circle cx="1772.9" cy="844.1" r="5.5"/><circle cx="1871.7" cy="808.7" r="5.5"/><circle cx="1899.9" cy="748.9" r="5.5"/><circle cx="1836.0" cy="809.0" r="5.5"/><circle cx="1886.3" cy="791.3" r="5.5"/><circle cx="1880.5" cy="799.8" r="5.5"/><circle cx="1839.7" cy="790.1" r="5.5"/><circle cx="1821.8" cy="843.1" r="5.5"/><circle cx="1877.1" cy="790.4" r="5.5"/><circle cx="1800.2" cy="850.9" r="5.5"/><circle cx="1784.5" cy="850.9" r="5.5"/><circle cx="1937.6" cy="728.3" r="5.5"/><circle cx="1833.6" cy="785.5" r="5.5"/><circle cx="1896.0" cy="749.5" r="5.5"/><circle cx="1936.0" cy="724.4" r="5.5"/><circle cx="1901.0" cy="720.7" r="5.5"/><circle cx="1898.0" cy="732.0" r="5.5"/><circle cx="1905.4" cy="735.4" r="5.5"/><circle cx="1873.8" cy="807.2" r="5.5"/><circle cx="1928.3" cy="750.6" r="5.5"/><circle cx="1823.1" cy="804.1" r="5.5"/><circle cx="1832.3" cy="796.2" r="5.5"/><circle cx="1777.7" cy="845.5" r="5.5"/><circle cx="1747.1" cy="873.7" r="5.5"/><circle cx="1909.1" cy="767.0" r="5.5"/><circle cx="2098.9" cy="561.1" r="5.5"/><circle cx="2021.5" cy="578.6" r="5.5"/><circle cx="2020.9" cy="587.7" r="5.5"/><circle cx="2018.8" cy="607.2" r="5.5"/><circle cx="2003.0" cy="614.9" r="5.5"/><circle cx="2008.8" cy="605.5" r="5.5"/><circle cx="2067.6" cy="591.0" r="5.5"/><circle cx="2082.7" cy="617.2" r="5.5"/><circle cx="2044.1" cy="623.3" r="5.5"/><circle cx="2020.9" cy="639.1" r="5.5"/><circle cx="2036.7" cy="640.1" r="5.5"/><circle cx="2022.2" cy="650.2" r="5.5"/><circle cx="2044.1" cy="651.5" r="5.5"/><circle cx="1995.6" cy="641.5" r="5.5"/><circle cx="2011.4" cy="662.6" r="5.5"/><circle cx="1873.6" cy="817.3" r="5.5"/><circle cx="1814.7" cy="852.0" r="5.5"/><circle cx="1828.2" cy="844.2" r="5.5"/><circle cx="1964.4" cy="728.2" r="5.5"/><circle cx="2003.7" cy="697.9" r="5.5"/><circle cx="1743.1" cy="875.5" r="5.5"/></g>
<text x="1741.4" y="586.8" font-size="29.8">Library2 vs. Library3</text>
<text x="2096.2" y="874" font-size="29.4" text-anchor="end" fill="#1473C0" style="stroke:#1473C0"><tspan font-style="italic">R</tspan> = 0.965</text>
<text x="0" y="0" font-size="28.1" transform="translate(648.6,725.5) rotate(-90)" text-anchor="middle"><tspan font-style="italic">PB</tspan> site counts</text>
<text x="0" y="0" font-size="28.1" transform="translate(682.6,725) rotate(-90)" text-anchor="middle">per 10 kb window</text>
</svg>
</body></html>
